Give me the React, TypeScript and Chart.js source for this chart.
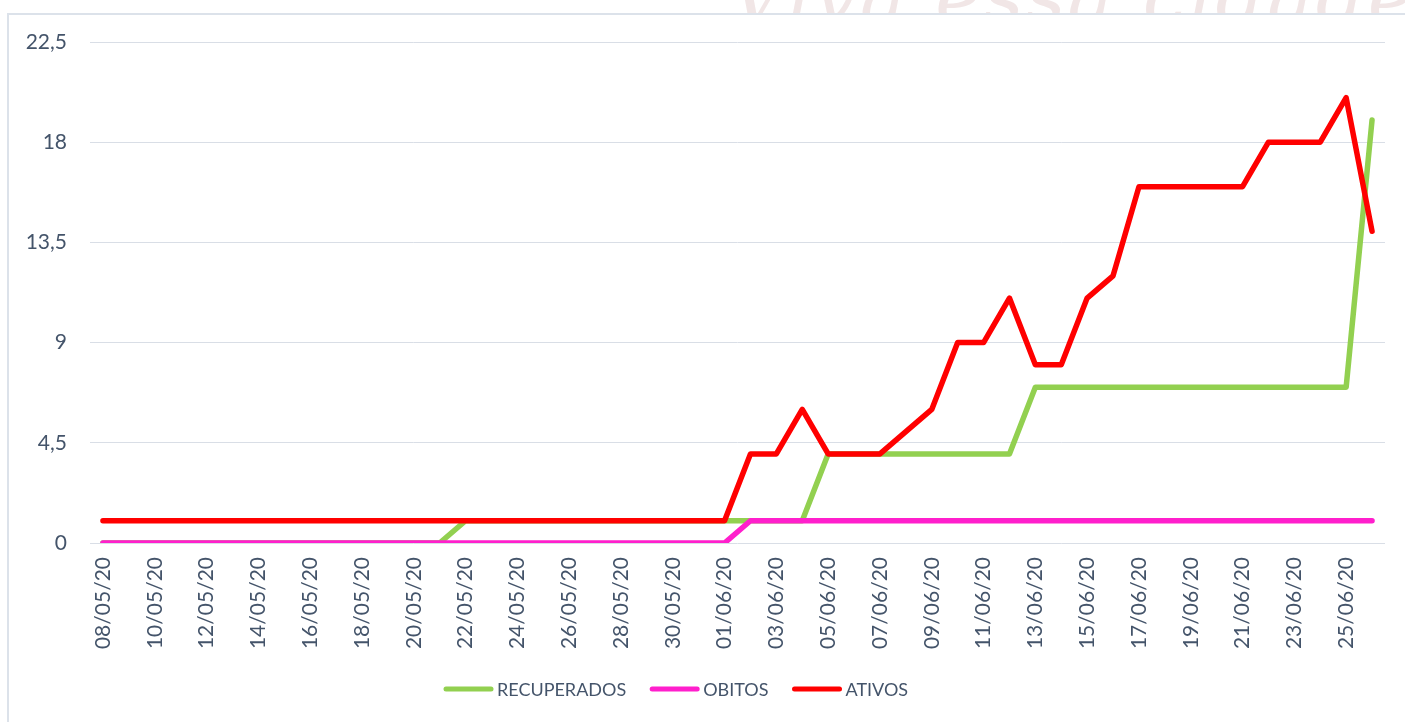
import React, { useEffect, useRef } from "react";
import { Chart, registerables } from "chart.js";

Chart.register(...registerables);

const dates: string[] = [
  "08/05/20", "09/05/20", "10/05/20", "11/05/20", "12/05/20", "13/05/20", "14/05/20", "15/05/20",
  "16/05/20", "17/05/20", "18/05/20", "19/05/20", "20/05/20", "21/05/20", "22/05/20", "23/05/20",
  "24/05/20", "25/05/20", "26/05/20", "27/05/20", "28/05/20", "29/05/20", "30/05/20", "31/05/20",
  "01/06/20", "02/06/20", "03/06/20", "04/06/20", "05/06/20", "06/06/20", "07/06/20", "08/06/20",
  "09/06/20", "10/06/20", "11/06/20", "12/06/20", "13/06/20", "14/06/20", "15/06/20", "16/06/20",
  "17/06/20", "18/06/20", "19/06/20", "20/06/20", "21/06/20", "22/06/20", "23/06/20", "24/06/20",
  "25/06/20", "26/06/20",
];

const recuperados: number[] = [
  0, 0, 0, 0, 0, 0, 0, 0, 0, 0, 0, 0, 0, 0, 1, 1,
  1, 1, 1, 1, 1, 1, 1, 1, 1, 1, 1, 1, 4, 4, 4, 4,
  4, 4, 4, 4, 7, 7, 7, 7, 7, 7, 7, 7, 7, 7, 7, 7,
  7, 19,
];

const obitos: number[] = [
  0, 0, 0, 0, 0, 0, 0, 0, 0, 0, 0, 0, 0, 0, 0, 0,
  0, 0, 0, 0, 0, 0, 0, 0, 0, 1, 1, 1, 1, 1, 1, 1,
  1, 1, 1, 1, 1, 1, 1, 1, 1, 1, 1, 1, 1, 1, 1, 1,
  1, 1,
];

const ativos: number[] = [
  1, 1, 1, 1, 1, 1, 1, 1, 1, 1, 1, 1, 1, 1, 1, 1,
  1, 1, 1, 1, 1, 1, 1, 1, 1, 4, 4, 6, 4, 4, 4, 5,
  6, 9, 9, 11, 8, 8, 11, 12, 16, 16, 16, 16, 16, 18, 18, 18,
  20, 14,
];

const yTicks: number[] = [0, 4.5, 9, 13.5, 18, 22.5];

const TEXT_COLOR = "#44546A";
const FONT = "Lato, 'Open Sans', sans-serif";

const legendPlugin = {
  id: "excelLegend",
  afterDraw(chart: any) {
    const ctx = chart.ctx as CanvasRenderingContext2D;
    ctx.save();
    ctx.font = `18px ${FONT}`;
    ctx.textBaseline = "middle";
    const y = 689;
    const lineW = 49;
    const gapText = 4;
    const gapItem = 24;
    let x = 444;
    chart.data.datasets.forEach((d: any) => {
      ctx.strokeStyle = d.borderColor;
      ctx.lineWidth = 5;
      ctx.lineCap = "round";
      ctx.beginPath();
      ctx.moveTo(x + 2, y);
      ctx.lineTo(x + lineW - 2, y);
      ctx.stroke();
      x += lineW + gapText;
      ctx.fillStyle = TEXT_COLOR;
      ctx.fillText(d.label, x, y + 1);
      x += ctx.measureText(d.label).width + gapItem;
    });
    ctx.restore();
  },
};

export default function App() {
  const ref = useRef<HTMLCanvasElement | null>(null);

  useEffect(() => {
    if (!ref.current) return;
    const common = {
      fill: false,
      borderWidth: 5.5,
      pointRadius: 0,
      pointHoverRadius: 0,
      tension: 0,
      borderJoinStyle: "round" as const,
      borderCapStyle: "round" as const,
    };
    const chart = new Chart(ref.current, {
      type: "line",
      data: {
        labels: dates,
        datasets: [
          { ...common, label: "RECUPERADOS", data: recuperados, borderColor: "#92D050", backgroundColor: "#92D050", order: 2 },
          { ...common, label: "OBITOS", data: obitos, borderColor: "#FF1FCC", backgroundColor: "#FF1FCC", order: 1 },
          { ...common, label: "ATIVOS", data: ativos, borderColor: "#FF0000", backgroundColor: "#FF0000", order: 0 },
        ],
      },
      options: {
        responsive: false,
        animation: false,
        events: [],
        layout: { padding: { top: 42, right: 20, bottom: 0, left: 0 } },
        plugins: {
          legend: { display: false },
          tooltip: { enabled: false },
          title: { display: false },
        },
        scales: {
          x: {
            type: "category",
            offset: true,
            grid: { display: false, drawTicks: false },
            border: { display: false },
            ticks: {
              autoSkip: false,
              maxRotation: 90,
              minRotation: 90,
              padding: 14,
              color: TEXT_COLOR,
              font: { family: FONT, size: 21 },
              callback: (_v: any, i: number) => (i % 2 === 0 ? dates[i] : ""),
            },
            afterFit: (s: any) => {
              s.height = 179;
              s.paddingLeft = 0;
              s.paddingRight = 0;
            },
          },
          y: {
            min: 0,
            max: 22.5,
            afterBuildTicks: (s: any) => {
              s.ticks = yTicks.map((v) => ({ value: v }));
            },
            grid: { color: "#D9DEE6", lineWidth: 1, drawTicks: false },
            border: { display: false },
            ticks: {
              padding: 23,
              color: TEXT_COLOR,
              font: { family: FONT, size: 21 },
              callback: (v: any) => String(v).replace(".", ","),
            },
            afterFit: (s: any) => {
              s.width = 90;
            },
          },
        },
      },
      plugins: [legendPlugin],
    });
    return () => chart.destroy();
  }, []);

  return (
    <div style={{ position: "fixed", left: 0, top: 0, width: 1405, height: 722, background: "#fff", overflow: "hidden" }}>
      <div
        style={{
          position: "absolute",
          left: 0,
          top: -48,
          width: 1405,
          height: 61,
          overflow: "hidden",
          fontFamily: "'DejaVu Serif', serif",
          fontStyle: "italic",
          fontSize: 78,
          color: "#F1E6E6",
          whiteSpace: "nowrap",
        }}
      >
        <span style={{ position: "absolute", left: 730, top: 0, letterSpacing: 2 }}>Viva essa cidade</span>
      </div>
      <div
        style={{
          position: "absolute",
          left: 7,
          top: 13,
          width: 1420,
          height: 740,
          border: "2px solid #DCE2EA",
          background: "#fff",
        }}
      />
      <canvas ref={ref} width={1405} height={722} style={{ position: "absolute", left: 0, top: 0, display: "block" }} />
    </div>
  );
}
